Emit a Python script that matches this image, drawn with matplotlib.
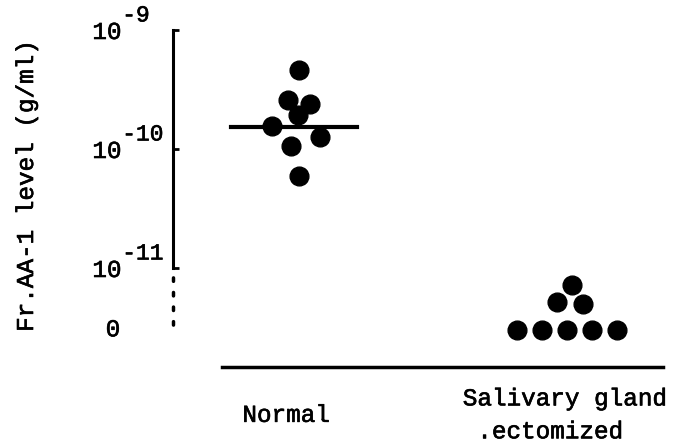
import matplotlib
matplotlib.use("Agg")
import numpy as np
import matplotlib.pyplot as plt
import matplotlib.transforms as mtransforms
import matplotlib.patheffects as pe

# Fr.AA-1 levels (g/ml)
groups = ["Normal", "Salivary gland\n.ectomized  "]
normal_vals = [4.6e-10, 2.6e-10, 2.4e-10, 1.93e-10, 1.56e-10, 1.26e-10, 1.06e-10, 5.9e-11]
salivary_vals = [7.2e-12, 5.2e-12, 5.0e-12, 0, 0, 0, 0, 0]
normal_mean = 1.53e-10
ytick_vals = [1e-9, 1e-10, 1e-11]
ytick_exps = ["-9", "-10", "-11"]

# horizontal spread of the dots inside each column (layout only)
normal_dx = [0.004, -0.037, 0.045, 0.0, -0.097, 0.082, -0.026, 0.004]
salivary_dx = [0.019, -0.037, 0.060, -0.186, -0.093, 0.0, 0.093, 0.186]

ZERO_POS = 10 ** -11.52   # where "0" sits below the axis break
BASE_POS = 10 ** -11.83   # the baseline under the dots

plt.rcParams["font.family"] = "Liberation Mono"
FS = 17.5
thick = [pe.withStroke(linewidth=0.45, foreground="black")]

fig = plt.figure(figsize=(6.79, 4.46), dpi=100)
ax = fig.add_axes([0, 0, 1, 1])
ax.set_yscale("log")
ax.set_xlim(-0.1078, 2.4164)
ax.set_ylim(10 ** -12.496, 10 ** -8.748)

x_axis = 0.535

# normal group
xn = 1 + np.array(normal_dx)
ax.plot(xn, normal_vals, "o", color="black", ms=13.5, ls="none")
ax.plot([1 - 0.25, 1 + 0.22], [normal_mean, normal_mean], color="black", lw=3)

# salivary gland ectomized group, zeros drawn at the "0" level
sv = np.array(salivary_vals, dtype=float)
sv = np.where(sv > 0, sv, ZERO_POS)
xs = 2 + np.array(salivary_dx)
ax.plot(xs, sv, "o", color="black", ms=13.5, ls="none")

# axes
for s in ["top", "right"]:
    ax.spines[s].set_visible(False)
ax.spines["left"].set_position(("data", x_axis))
ax.spines["left"].set_bounds(1e-11, 1e-9)
ax.spines["left"].set_linewidth(2.2)
ax.spines["bottom"].set_position(("data", BASE_POS))
ax.spines["bottom"].set_bounds(0.7175, 2.357)
ax.spines["bottom"].set_linewidth(2.5)

ax.plot([x_axis, x_axis], [1e-11, ZERO_POS], color="black", lw=2.5,
        ls=(1.5, (1, 3.2)), dash_capstyle="round")

ax.set_yticks(ytick_vals)
ax.set_yticklabels(["10"] * len(ytick_vals))
ax.yaxis.set_minor_locator(matplotlib.ticker.NullLocator())
ax.tick_params(axis="y", direction="in", length=4, width=2, pad=58, labelsize=FS)
for lab in ax.get_yticklabels():
    lab.set_ha("left")
    lab.set_path_effects(thick)

# exponents, nearly full size as in the typed original
sup_tr = mtransforms.offset_copy(ax.get_yaxis_transform(), fig=fig, y=15, units="dots")
for v, e in zip(ytick_vals, ytick_exps):
    ax.text(0.18, v, e, transform=sup_tr, ha="left", va="center", fontsize=16.5,
            path_effects=thick)
ax.text(0.312, ZERO_POS, "0", ha="center", va="center", fontsize=FS, path_effects=thick)

ax.set_xticks([0.955, 1.99])
ax.set_xticklabels(groups)
ax.tick_params(axis="x", length=0, pad=35, labelsize=FS)
for lab in ax.get_xticklabels():
    lab.set_va("center")
    lab.set_linespacing(1.55)
    lab.set_path_effects(thick)

ax.set_ylabel("Fr.AA-1 level (g/ml)", fontsize=FS, path_effects=thick)
ax.yaxis.set_label_coords(0.056, 0.581)

plt.savefig("out.png", dpi=100)
